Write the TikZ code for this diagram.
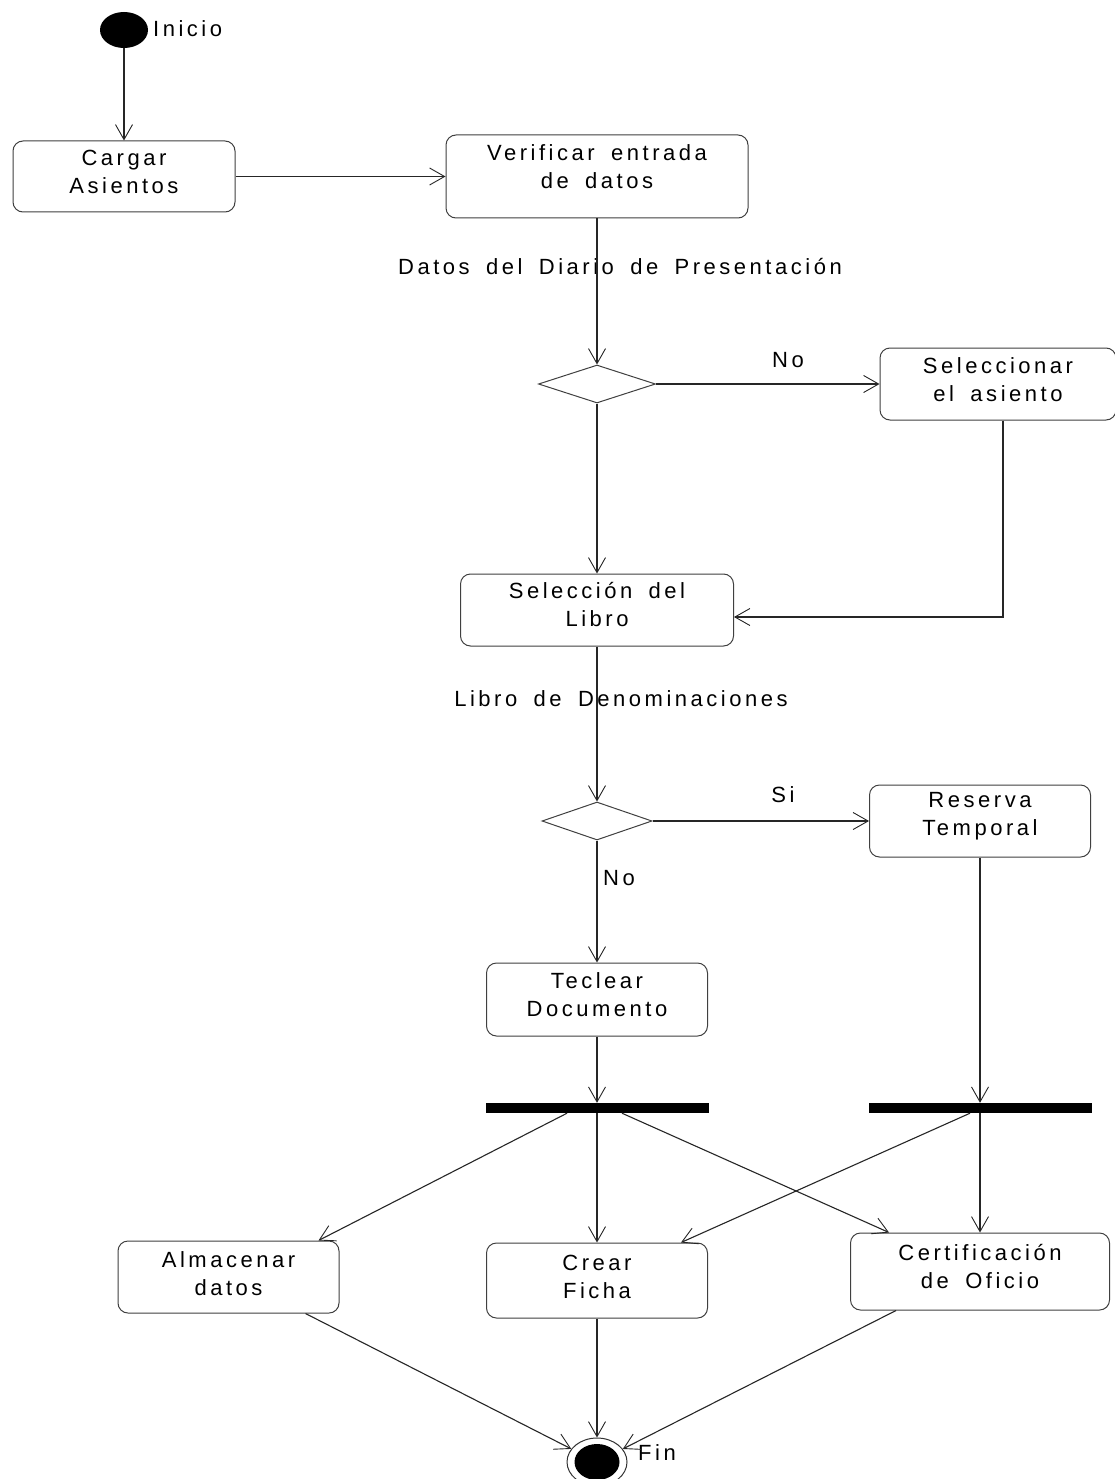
\documentclass[tikz,border=0pt]{standalone}
\usepackage{fontspec}
\newfontfamily\dfont[LetterSpace=16,WordSpace=1.7]{Liberation Sans}
\usetikzlibrary{arrows.meta,shapes.geometric}
\begin{document}
\begin{tikzpicture}[x=1pt,y=-1pt,
  every node/.style={font=\dfont\fontsize{22}{28}\selectfont},
  box/.style={draw=black!75, line width=1pt, rounded corners=10pt, inner sep=0pt},
  txt/.style={align=center, inner sep=0pt},
  lbl/.style={inner sep=0pt},
  flow/.style={draw=black!85, line width=1.1pt, -{Straight Barb[length=15pt,width=17pt,line width=0.9pt]}},
  dec/.style={diamond, draw=black!75, line width=1pt, inner sep=0pt},
  bar/.style={fill=black, inner sep=0pt, minimum height=10pt},
]
\fill[white] (0,0) rectangle (1114,1479);
\useasboundingbox (0,0) rectangle (1114,1479);

% start
\node[ellipse, fill=black, inner sep=0pt, minimum width=48pt, minimum height=36pt] (start) at (124,30) {};
\node[lbl, anchor=west] (inicio) at (153,29) {Inicio};

% boxes
\node[box, minimum width=222pt, minimum height=71pt] (cargar) at (124,176.5) {};
\node[txt] (cargar-t) at ([yshift=5pt]cargar.center) {Cargar\\Asientos};

\node[box, minimum width=302pt, minimum height=83pt] (verif) at (597,176.5) {};
\node[txt] (verif-t) at ([yshift=10pt]verif.center) {Verificar entrada\\de datos};

\node[lbl] (datos) at (620,267) {Datos del Diario de Presentación};

\node[dec, minimum width=117pt, minimum height=38pt] (d1) at (597,384) {};
\node[lbl] (no1) at (788,360) {No};

\node[box, minimum width=236pt, minimum height=72pt] (sel) at (998,384) {};
\node[txt] (sel-t) at ([yshift=4pt]sel.center) {Seleccionar\\el asiento};

\node[box, minimum width=273pt, minimum height=72pt] (libro) at (597,610) {};
\node[txt] (libro-t) at ([yshift=5pt]libro.center) {Selección del\\Libro};

\node[lbl] (libden) at (621,699) {Libro de Denominaciones};

\node[dec, minimum width=110pt, minimum height=38pt] (d2) at (597,821) {};
\node[lbl] (si) at (783,795) {Si};
\node[lbl, anchor=west] (no2) at (603,878) {No};

\node[box, minimum width=221pt, minimum height=72pt] (reserva) at (980,821) {};
\node[txt] (reserva-t) at ([yshift=5pt]reserva.center) {Reserva\\Temporal};

\node[box, minimum width=221pt, minimum height=73pt] (teclear) at (597,999.5) {};
\node[txt] (teclear-t) at ([yshift=5pt]teclear.center) {Teclear\\Documento};

\node[bar, minimum width=223pt] (bar1) at (597,1108) {};
\node[bar, minimum width=223pt] (bar2) at (980,1108) {};

\node[box, minimum width=221pt, minimum height=72pt] (alm) at (228.5,1277) {};
\node[txt] (alm-t) at ([yshift=3pt]alm.center) {Almacenar\\datos};

\node[box, minimum width=221pt, minimum height=75pt] (crear) at (597,1280.5) {};
\node[txt] (crear-t) at ([yshift=4pt]crear.center) {Crear\\Ficha};

\node[box, minimum width=259pt, minimum height=77pt] (cert) at (980,1271.5) {};
\node[txt] (cert-t) at ([yshift=5pt]cert.center) {Certificación\\de Oficio};

% end
\node[ellipse, draw=black!80, line width=1pt, inner sep=0pt, minimum width=60pt, minimum height=48pt] (fin) at (597,1462) {};
\node[ellipse, fill=black, inner sep=0pt, minimum width=45pt, minimum height=36pt] (fininner) at (597,1462) {};
\node[lbl, anchor=west] (fint) at (638,1453) {Fin};

% connectors
\draw[flow] (start) -- (cargar);
\draw[flow] (cargar) -- (verif);
\draw[flow] (verif) -- (d1);
\draw[flow] (d1) -- (sel);
\draw[flow] (d1) -- (libro);
\draw[flow] ([xshift=5pt]sel.south) |- ([yshift=-7pt]libro.east);
\draw[flow] (libro) -- (d2);
\draw[flow] (d2) -- (reserva);
\draw[flow] (d2) -- (teclear);
\draw[flow] (teclear) -- (bar1.north);
\draw[flow] (reserva) -- (bar2.north);
\draw[flow] ([xshift=-30pt]bar1.south) -- ([xshift=-21pt]alm.north east);
\draw[flow] (bar1.south) -- (crear.north);
\draw[flow] ([xshift=25pt]bar1.south) -- ([xshift=39pt]cert.north west);
\draw[flow] ([xshift=-10pt]bar2.south) -- ([xshift=-27pt]crear.north east);
\draw[flow] (bar2.south) -- (cert.north);
\draw[flow] ([xshift=-34pt]alm.south east) -- (fin);
\draw[flow] (crear) -- (fin);
\draw[flow] ([xshift=46pt]cert.south west) -- (fin);
\end{tikzpicture}
\end{document}
